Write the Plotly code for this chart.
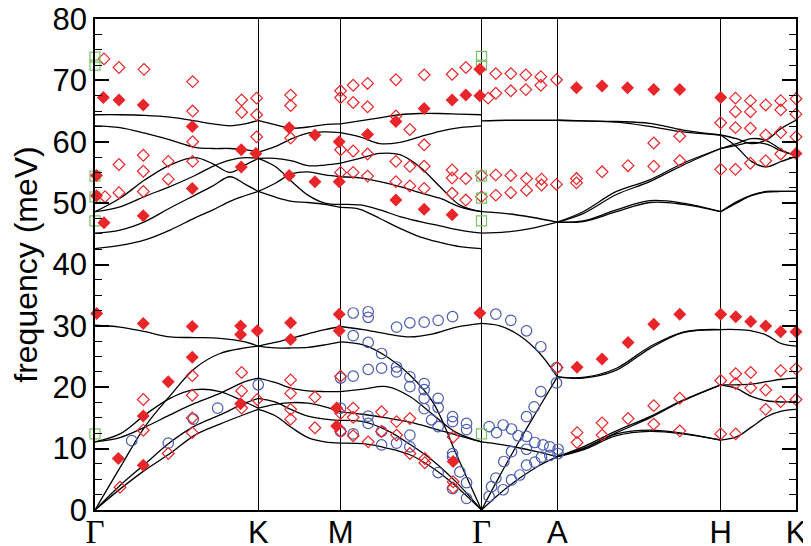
import plotly.graph_objects as go

# ---------------- high-symmetry path ----------------
sym_labels = ["Γ", "K", "M", "Γ", "A", "H", "K"]
sym_pos = [0, 163.3, 245.7, 386.7, 462.5, 626, 701.3]

# ---------------- calculated dispersion (meV) ----------------
GK_q_hi = [0, 25, 50, 75, 100, 118, 135, 150, 163.3]
GK_hi = [
    [64.4, 64.4, 64.3, 64.0, 63.4, 62.9, 62.6, 62.9, 63.5],
    [62.6, 62.3, 61.4, 60.3, 59.1, 58.9, 58.9, 58.7, 58.3],
    [48.6, 50.8, 53.8, 56.2, 57.4, 56.4, 55.0, 56.2, 57.3],
    [48.6, 49.4, 51.1, 52.7, 54.5, 56.0, 57.0, 57.4, 57.3],
    [45.1, 45.6, 47.0, 49.2, 51.3, 52.8, 54.3, 53.1, 51.9],
    [42.6, 43.1, 44.0, 45.6, 47.6, 48.9, 50.3, 51.2, 51.9],
]
GK_q_lo = [0, 25, 50, 75, 100, 125, 150, 163.3]
GK_lo = [
    [30.1, 29.8, 29.05, 28.2, 28.1, 27.97, 27.4, 26.7],
    [0, 6.9, 13.6, 18.6, 23.1, 25.5, 26.4, 26.7],
    [11.1, 11.8, 13.5, 15.5, 17.4, 19.0, 20.9, 21.5],
    [11.1, 12.4, 15.5, 18.2, 19.6, 19.3, 17.6, 16.6],
    [0, 4.0, 7.5, 11.0, 13.7, 15.5, 17.4, 18.2],
    [0, 3.4, 6.5, 9.2, 12.2, 14.0, 15.6, 16.4],
]

KM_q = [163.3, 180, 197, 213, 230, 245.7]
KM_hi = [
    [63.5, 62.8, 62.2, 62.4, 62.8, 62.9],
    [58.3, 59.2, 60.5, 61.4, 61.6, 61.5],
    [57.3, 57.3, 56.9, 56.1, 56.2, 56.5],
    [57.3, 56.0, 53.5, 51.3, 50.0, 49.8],
    [51.9, 53.2, 54.8, 55.1, 54.6, 54.3],
    [51.9, 51.0, 50.3, 50.1, 49.8, 49.3],
]
KM_lo = [
    [26.7, 26.4, 26.4, 26.5, 26.9, 27.4],
    [26.7, 27.3, 28.0, 28.7, 29.4, 29.9],
    [21.5, 20.8, 19.8, 19.4, 19.3, 19.3],
    [16.6, 17.2, 17.5, 17.4, 16.8, 16.0],
    [18.2, 17.6, 16.3, 15.3, 14.8, 14.6],
    [16.4, 15.4, 13.4, 11.8, 11.1, 10.9],
]

MG_q_hi = [245.7, 265, 285, 305, 325, 345, 365, 386.7]
MG_hi = [
    [62.9, 63.4, 63.9, 64.4, 64.6, 64.6, 64.5, 64.4],
    [61.5, 60.8, 59.7, 59.9, 60.8, 61.7, 62.3, 62.6],
    [56.5, 57.3, 58.1, 57.9, 55.9, 52.7, 49.7, 48.6],
    [54.3, 54.1, 53.5, 52.7, 51.7, 50.8, 49.4, 48.6],
    [49.8, 49.7, 48.9, 47.8, 47.0, 46.3, 45.6, 45.1],
    [49.3, 49.0, 47.5, 45.9, 44.5, 43.6, 42.9, 42.6],
]
MG_q_lo = [245.7, 268.3, 291.7, 315, 338.3, 361.7, 386.7]
MG_lo = [
    [29.9, 29.4, 28.7, 28.2, 28.7, 29.8, 30.4],
    [27.4, 26.9, 25.0, 22.0, 17.5, 9.0, 0],
    [19.3, 19.7, 20.1, 18.5, 15.5, 12.6, 11.1],
    [16.0, 15.6, 15.0, 14.3, 13.3, 12.2, 11.1],
    [14.6, 14.4, 13.0, 10.7, 8.0, 4.5, 0],
    [10.9, 10.8, 10.1, 9.0, 6.8, 3.8, 0],
]

GA_q_hi = [386.7, 411.7, 436.7, 462.5]
GA_hi = [
    [63.4, 63.5, 63.5, 63.5],
    [48.6, 48.3, 47.7, 46.9],
    [45.1, 45.3, 45.9, 46.9],
]
GA_q_lo = [386.7, 405, 425, 445, 462.5]
GA_lo = [
    [30.4, 30.0, 28.4, 25.5, 21.7],
    [0, 5.6, 11.4, 16.9, 21.7],
    [11.1, 10.7, 10.1, 9.4, 8.7],
    [0, 2.7, 5.2, 7.3, 8.7],
]

AH_q = [462.5, 488.3, 521.7, 555, 588.3, 626]
AH_hi = [
    [63.5, 63.4, 63.3, 63.0, 61.9, 61.1],
    [63.5, 63.4, 63.2, 62.5, 61.6, 61.1],
    [46.9, 48.6, 51.9, 53.8, 56.5, 58.9],
    [46.9, 48.3, 51.4, 53.5, 56.2, 58.9],
    [46.9, 47.1, 48.9, 50.4, 50.0, 48.6],
    [46.9, 47.0, 48.6, 50.1, 49.8, 48.6],
]
AH_lo = [
    [21.7, 21.6, 23.1, 26.6, 29.0, 29.4],
    [21.7, 21.5, 22.8, 26.3, 28.9, 29.4],
    [8.7, 10.3, 12.9, 15.2, 17.9, 20.4],
    [8.7, 10.0, 12.6, 15.0, 17.8, 20.4],
    [8.7, 10.0, 12.4, 13.0, 12.5, 11.4],
    [8.7, 9.8, 12.1, 12.8, 12.4, 11.4],
]

HK_q = [626, 641.7, 656.7, 671.7, 686.7, 701.3]
HK_hi = [
    [61.1, 60.5, 59.7, 60.3, 62.2, 63.5],
    [61.1, 59.2, 56.8, 55.9, 56.8, 57.6],
    [58.9, 59.7, 60.5, 60.2, 58.7, 57.6],
    [58.9, 59.4, 59.9, 59.6, 58.5, 57.8],
    [48.6, 50.2, 51.3, 51.9, 51.9, 51.9],
    [48.6, 50.0, 51.2, 51.8, 51.9, 51.9],
]
HK_lo = [
    [29.4, 29.4, 29.2, 28.5, 27.1, 26.7],
    [20.4, 20.4, 20.5, 20.9, 21.3, 21.5],
    [20.4, 19.8, 18.5, 17.8, 17.6, 17.7],
    [11.4, 11.9, 13.5, 15.2, 16.1, 16.4],
]

# ---------------- measured points (path coordinate, meV) ----------------
filled_q = [1.5, 1.5, 8.3, 9, 24, 48.3, 48.3, 97.3, 97.3, 146.3, 146.3, 161, 194.3, 194.3, 220, 220, 244.3, 244.3,
            272.7, 301, 329.3, 357.3, 371, 385, 385, 301, 329.3, 357.3,
            481.7, 507.3, 532.7, 559, 585, 626, 701.3,
            1.7, 48.3, 97.3, 145.7, 145.7, 162.3, 195.7, 195.7, 244.3, 244.3, 97.3, 73.3, 48.3, 23.3, 48.3,
            145.7, 241.7, 241.7, 385, 358.3,
            482.3, 507.3, 533.3, 559, 585, 626, 641, 656, 671, 686, 701.3]
filled_e = [54.5, 51.2, 67.2, 46.8, 66.8, 66.0, 47.95, 62.5, 52.4, 58.7, 55.9, 58.1, 62.3, 54.5, 61.1, 53.5, 60.0, 53.5,
            61.2, 63.3, 65.4, 66.8, 67.6, 67.5, 71.8, 50.5, 49.0, 48.1,
            68.8, 69.1, 68.8, 68.5, 68.5, 67.2, 58.1,
            32.0, 30.4, 29.9, 30.0, 28.6, 29.2, 30.5, 27.8, 31.9, 29.2, 24.9, 20.9, 15.3, 8.4, 7.3,
            17.3, 16.6, 13.7, 32.1, 7.9,
            23.25, 24.6, 27.3, 30.25, 31.9, 31.9, 31.5, 30.7, 30.0, 29.05, 29.05]

open_q = [9, 24, 49, 97.7, 97.7, 146.7, 146.7, 161.7, 161.7, 195.7, 195.7, 245.7, 245.7, 97.7, 161.7, 195.7,
          97.7, 73.3, 48.3, 24, 48.3, 73.3, 48.3, 24, 10, 245.7, 245.7,
          258.3, 258.3, 272.7, 272.7, 301, 329.3, 357.3, 371, 301, 315, 329.3, 258.3, 272.7, 258.3, 272.7,
          301, 315, 329.3, 301, 315, 329.3, 357.3, 357.3, 371, 357.3, 371, 386.7, 386.7,
          393.3, 401, 416, 431, 446, 446, 461.7, 401, 416, 431,
          401, 416, 431.7, 446.7, 446.7, 461.7, 401, 416, 431.7,
          481.7, 481.7, 507.3, 533.3, 559, 559, 585, 585, 626, 626, 640.7, 640.7, 640.7, 640.7,
          655.7, 655.7, 655.7, 655.7, 671, 671, 671, 686, 686, 686, 686, 701.3, 701.3, 701.3,
          25, 48.3, 48.3, 73.3, 97.3, 97.3, 97.3, 97.3, 146.7, 146.7, 146.7, 162.3, 195.7, 195.7, 195.7,
          195.7, 220, 220, 245.7, 245.7, 245.7,
          258.3, 258.3, 286.7, 301.7, 315, 258.3, 273.3, 286.7, 301.7, 315, 330, 330, 358.3, 358.3,
          358.3, 462.3,
          482.3, 482.3, 507.3, 507.3, 533.3, 559, 559, 585, 585, 626, 626, 641, 641, 641, 656, 656,
          671, 671, 686, 686, 701.3, 701.3]
open_e = [73.5, 72.1, 71.8, 69.8, 65.0, 66.8, 64.8, 67.1, 64.4, 67.6, 65.9, 68.3, 67.2, 60.0, 60.8, 60.6,
          56.8, 56.8, 57.8, 56.3, 55.2, 53.9, 51.9, 51.7, 51.05, 58.7, 55.0,
          69.2, 66.4, 69.5, 65.7, 70.1, 70.9, 71.0, 72.1, 64.2, 62.0, 59.5, 58.5, 58.0, 55.0, 54.4,
          56.8, 56.0, 56.0, 53.5, 52.8, 52.4, 55.4, 54.1, 54.0, 51.6, 50.5, 54.5, 51.05,
          67.1, 71.1, 71.1, 70.9, 70.6, 69.2, 70.1, 67.9, 68.3, 68.5,
          54.6, 54.5, 54.0, 53.9, 52.95, 53.05, 51.3, 51.7, 52.1,
          54.0, 53.3, 55.1, 56.1, 56.0, 59.8, 60.9, 56.9, 63.1, 55.5, 67.1, 64.9, 62.3, 55.5,
          66.7, 64.9, 62.2, 56.5, 66.0, 61.1, 56.9, 66.7, 65.2, 61.5, 58.0, 67.0, 64.5, 60.8,
          3.7, 18.0, 13.0, 9.2, 21.9, 18.7, 15.0, 12.6, 22.4, 19.4, 16.6, 18.0, 21.2, 19.0, 16.4,
          14.8, 18.4, 13.4, 21.8, 15.75, 12.8,
          16.6, 15.1, 16.0, 14.4, 14.9, 12.1, 11.1, 12.8, 12.2, 9.2, 8.4, 7.7, 11.9, 4.6,
          3.6, 23.2,
          12.6, 11.0, 14.2, 12.2, 14.9, 17.0, 14.0, 18.2, 12.9, 21.1, 12.4, 22.2, 20.6, 12.4, 22.4, 19.9,
          19.55, 16.4, 22.7, 17.65, 23.0, 18.0]

circle_q = [36.7, 73.3, 98.3, 122.7, 163.3, 245.7, 245.7, 245.7,
            258.3, 273.3, 273.3, 301.7, 315, 329.3, 343.3, 357.7, 258.3, 273.3, 286.7, 301.7, 301.7,
            315, 315, 329.3, 329.3, 329.3, 343.3, 343.3, 329.3, 336.7, 343.3, 357.7, 357.7, 371.7,
            371.7, 357.7, 357.7, 365, 371.7, 371.7, 357.7, 343.3, 315, 301.7, 286.7, 273.3, 273.3,
            258.3, 273.3, 286.7, 258.3, 286.7, 315,
            401, 416, 431.7, 446, 461.7, 461.7, 394.3, 401.7, 408.3, 416.7, 423.3, 431.7, 440, 448.3,
            455, 463.3, 431.7, 439.3, 446, 416.7, 409, 401, 396.7, 394.3, 408.3, 416.7, 425, 431.7,
            440, 446.7, 455, 463.3, 431.7]
circle_e = [11.3, 10.9, 14.8, 16.6, 20.4, 21.5, 16.6, 12.8,
            32.1, 32.3, 31.4, 29.8, 30.5, 30.6, 30.9, 31.5, 28.4, 27.3, 25.5, 23.3, 22.5,
            21.7, 20.1, 20.6, 19.6, 18.2, 18.2, 16.7, 16.5, 14.7, 13.6, 15.2, 14.4, 14.1,
            13.1, 9.2, 8.7, 6.2, 4.45, 1.9, 3.5, 6.1, 10.3, 10.9, 10.6, 14.1, 15.3,
            21.8, 22.9, 23.1, 12.4, 12.8, 12.2,
            31.9, 30.9, 29.2, 26.6, 23.2, 20.7, 13.6, 12.6, 13.85, 13.2, 12.1, 12.0, 11.0, 10.6,
            10.3, 9.9, 15.2, 16.8, 19.3, 9.5, 7.9, 5.2, 3.8, 2.2, 3.3, 4.9, 5.7, 7.3,
            7.8, 8.6, 8.9, 9.2, 9.9]

square_q = [0, 0, 0, 0, 0, 0, 386.7, 386.7, 386.7, 386.7, 386.7, 386.7]
square_e = [73.8, 72.5, 54.4, 51.0, 47.1, 12.4, 73.9, 72.5, 54.4, 50.8, 47.1, 12.4]

# ---------------- figure ----------------
RED = "#e8262a"
BLUE = "#4a5bb2"
GREEN = "#79c462"

fig = go.Figure()

segments = [
    (GK_q_hi, GK_hi), (GK_q_lo, GK_lo),
    (KM_q, KM_hi), (KM_q, KM_lo),
    (MG_q_hi, MG_hi), (MG_q_lo, MG_lo),
    (GA_q_hi, GA_hi), (GA_q_lo, GA_lo),
    (AH_q, AH_hi), (AH_q, AH_lo),
    (HK_q, HK_hi), (HK_q, HK_lo),
]
for qs, branches in segments:
    for br in branches:
        fig.add_trace(go.Scatter(
            x=qs, y=br, mode="lines",
            line=dict(color="black", width=1.3, shape="spline", smoothing=1.0),
            showlegend=False, hoverinfo="skip"))

fig.add_trace(go.Scatter(
    x=circle_q, y=circle_e, mode="markers", cliponaxis=False, showlegend=False,
    marker=dict(symbol="circle-open", size=10.5, color=BLUE, line=dict(width=1.2, color=BLUE))))
fig.add_trace(go.Scatter(
    x=open_q, y=open_e, mode="markers", cliponaxis=False, showlegend=False,
    marker=dict(symbol="diamond-open", size=9, color=RED, line=dict(width=1.2, color=RED))))
fig.add_trace(go.Scatter(
    x=square_q, y=square_e, mode="markers", cliponaxis=False, showlegend=False,
    marker=dict(symbol="square-open", size=10, color=GREEN, line=dict(width=1.2, color=GREEN))))
fig.add_trace(go.Scatter(
    x=filled_q, y=filled_e, mode="markers", cliponaxis=False, showlegend=False,
    marker=dict(symbol="diamond", size=10, color=RED, line=dict(width=0))))

tick_text = []
for lab in sym_labels:
    if lab == "Γ":
        tick_text.append('<span style="font-family:Liberation Serif,serif;font-size:33px">Γ</span>')
    else:
        tick_text.append(lab)

# the page places the figure 8 px from the top-left corner of the window,
# so the figure is 8 px smaller than the window in each direction
fig.update_layout(
    width=803, height=538,
    margin=dict(l=87, r=15, t=11, b=36),
    paper_bgcolor="white", plot_bgcolor="white",
    font=dict(family="Liberation Sans, Arial, sans-serif", color="black"),
)
fig.update_xaxes(
    range=[0, 701.3], tickmode="array", tickvals=sym_pos, ticktext=tick_text,
    showgrid=True, gridcolor="black", gridwidth=1, zeroline=False,
    showline=True, linecolor="black", linewidth=1.5, mirror=True,
    ticks="", tickfont=dict(size=31), automargin=False,
    ticklabelstandoff=-6, ticklabeloverflow="allow",
)
fig.update_yaxes(
    range=[0, 80], tickmode="linear", tick0=0, dtick=10,
    showgrid=False, zeroline=False,
    showline=True, linecolor="black", linewidth=1.5, mirror="allticks",
    ticks="inside", ticklen=14, tickwidth=1.5, tickcolor="black",
    minor=dict(ticks="inside", ticklen=7, tickwidth=1.2, tickcolor="black", dtick=2.5, showgrid=False),
    tickfont=dict(size=31), automargin=False, ticklabeloverflow="allow",
    title=dict(text="frequency (meV)", font=dict(size=32), standoff=6),
)

fig.write_html("out.html")
